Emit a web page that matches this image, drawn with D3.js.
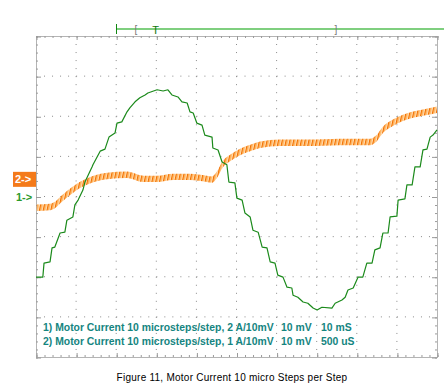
<!DOCTYPE html>
<html>
<head>
<meta charset="utf-8">
<script src="https://cdn.jsdelivr.net/npm/d3@7"></script>
<style>
    html, body { margin: 0; padding: 0; background: #fff; }
    svg { display: block; }
</style>
</head>
<body>
<div id="chart"></div>
<script>
// time in ms (10 ms/div), channel values in mV (10 mV/div)
const ch1Time = [0, 1.7, 2.0, 3.5, 4.0, 4.7, 6.0, 7.2, 7.7, 9.2, 9.7, 10.5, 11.7, 12.2, 14.0, 14.2, 16.0, 17.2, 18.2, 19.7,
    20.2, 21.4, 22.7, 23.4, 24.7, 25.9, 27.2, 27.9, 30.2, 31.7, 32.9, 33.9, 35.4, 36.4, 37.7, 38.4, 39.2, 40.1, 41.4, 42.1,
    43.9, 44.1, 45.4, 46.4, 47.6, 48.1, 49.6, 50.1, 51.4, 52.1, 53.4, 54.1, 55.4, 56.4, 57.6, 58.4, 59.6, 60.3, 61.6, 62.6,
    63.8, 64.1, 65.3, 66.6, 67.8, 69.1, 70.1, 71.3, 73.8, 74.6, 76.3, 77.1, 77.8, 79.1, 80.3, 81.5, 82.5, 83.8, 84.5, 85.8,
    86.5, 87.8, 88.3, 90.0, 90.3, 92.0, 92.5, 93.8, 94.5, 95.8, 96.5, 97.5, 98.3, 99.0, 100];
const ch1Values = [-20.1, -20.1, -16.6, -16.3, -12.8, -12.6, -9.1, -8.9, -5.9, -5.1, -2.1, -0.9, 1.6, 3.6, 7.4, 7.9, 11.3, 11.8, 14.8, 15.8,
    18.3, 18.6, 21.1, 22.1, 23.6, 24.6, 25.3, 25.8, 26.6, 26.3, 26.6, 25.3, 24.8, 23.6, 23.3, 21.1, 20.8, 18.3, 17.8, 15.3,
    14.8, 12.1, 11.6, 8.6, 7.9, 3.6, 3.4, -0.4, -0.9, -4.1, -5.1, -8.4, -8.9, -12.6, -12.8, -16.3, -16.6, -19.6, -20.1, -22.6,
    -22.8, -24.6, -25.1, -26.3, -26.6, -27.8, -28.3, -27.6, -27.8, -26.6, -25.8, -25.1, -23.3, -22.8, -20.1, -20.1, -16.6, -16.6, -13.3, -12.8,
    -9.1, -9.1, -5.1, -4.9, -0.9, -0.6, 2.9, 2.9, 7.4, 7.4, 11.6, 11.8, 14.8, 15.3, 16.6];

const ch2Time = [0.2, 3.5, 4.7, 6.7, 9.2, 11.0, 12.7, 15.2, 17.7, 22.7, 26.7, 30.2, 34.2, 38.4, 42.6, 43.9, 45.1, 46.6, 48.4, 50.9,
    53.4, 55.9, 60.8, 67.6, 75.8, 83.3, 85.0, 86.5, 89.0, 91.5, 94.0, 96.5, 100];
const ch2Values = [-7.2, -7.0, -6.5, -4.7, -2.7, -1.5, -0.7, 0.2, 0.7, 1.0, 0, 0, 0.5, 0.5, 0, -0.2, 1.0, 3.7, 5.2, 6.7,
    7.7, 8.5, 9.0, 9.0, 9.2, 9.2, 10.2, 12.2, 14.0, 15.2, 16.0, 16.5, 17.2];

const ch1Offset = 0;     // mV, ground marker 1->
const ch2Offset = 4.4;   // mV, ground marker 2->
const ripple = 0.8;      // mV, half height of ch2 ripple band

const legendLines = [
    ['1) Motor Current 10 microsteps/step, 2 A/10mV', '10 mV', '10 mS'],
    ['2) Motor Current 10 microsteps/step, 1 A/10mV', '10 mV', '500 uS']
];
const caption = 'Figure 11,  Motor Current 10 micro Steps per Step';

const W = 444, H = 386;
const box = { l: 36, r: 437, t: 36, b: 357 };

const svg = d3.select('#chart').append('svg')
    .attr('width', W)
    .attr('height', H)
    .style('font-family', 'Arial, "Liberation Sans", sans-serif');

const x = d3.scaleLinear().domain([0, 100]).range([box.l, box.r]);
const y = d3.scaleLinear().domain([-40, 40]).range([box.b, box.t]);

// ripple texture
const defs = svg.append('defs');
const pat = defs.append('pattern')
    .attr('id', 'ripple')
    .attr('patternUnits', 'userSpaceOnUse')
    .attr('width', 3.8).attr('height', 7)
    .attr('patternTransform', 'skewX(-12)');
pat.append('rect').attr('width', 3.8).attr('height', 7).attr('fill', '#ffdcb0');
pat.append('rect').attr('width', 1.3).attr('height', 7).attr('fill', '#f26f00');
pat.append('rect').attr('x', 1.3).attr('width', 1.1).attr('height', 7).attr('fill', '#ffa845');

// grid dots
const grid = svg.append('g').attr('class', 'grid');
const divX = d3.range(10, 100, 10);
const divY = d3.range(-30, 40, 10);
grid.selectAll('line.v').data(divX).join('line')
    .attr('class', 'v')
    .attr('x1', d => x(d)).attr('x2', d => x(d))
    .attr('y1', box.t).attr('y2', box.b)
    .attr('stroke', '#8a8a8a')
    .attr('stroke-dasharray', '1,7.025');
grid.selectAll('line.h').data(divY).join('line')
    .attr('class', 'h')
    .attr('y1', d => y(d)).attr('y2', d => y(d))
    .attr('x1', box.l).attr('x2', box.r)
    .attr('stroke', '#8a8a8a')
    .attr('stroke-dasharray', '1,7.02');

// frame
svg.append('rect')
    .attr('x', box.l + 0.5).attr('y', box.t + 0.5)
    .attr('width', box.r - box.l).attr('height', box.b - box.t)
    .attr('fill', 'none')
    .attr('stroke', '#b4b4b4');

// border ticks
function tickAxis(axis, tr, size) {
    const g = svg.append('g').attr('transform', tr)
        .call(axis.tickSizeInner(size).tickSizeOuter(0).tickFormat(''));
    g.select('.domain').remove();
    g.selectAll('.tick line').attr('stroke', '#9a9a9a');
}
const minorX = d3.range(0, 100.1, 2), majorX = d3.range(0, 100.1, 10);
const minorY = d3.range(-40, 40.1, 2), majorY = d3.range(-40, 40.1, 10);
tickAxis(d3.axisBottom(x).tickValues(minorX), `translate(0.5,${box.t})`, 2);
tickAxis(d3.axisBottom(x).tickValues(majorX), `translate(0.5,${box.t})`, 4);
tickAxis(d3.axisTop(x).tickValues(minorX), `translate(0.5,${box.b})`, 2);
tickAxis(d3.axisTop(x).tickValues(majorX), `translate(0.5,${box.b})`, 4);
tickAxis(d3.axisRight(y).tickValues(minorY), `translate(${box.l},0.5)`, 2);
tickAxis(d3.axisRight(y).tickValues(majorY), `translate(${box.l},0.5)`, 5);
tickAxis(d3.axisLeft(y).tickValues(minorY), `translate(${box.r},0.5)`, 2);
tickAxis(d3.axisLeft(y).tickValues(majorY), `translate(${box.r},0.5)`, 5);

// channel 2 (orange, rippled)
const ch2 = ch2Time.map((t, i) => ({ t, v: ch2Values[i] + ch2Offset }));
svg.append('path')
    .datum(ch2)
    .attr('fill', 'url(#ripple)')
    .attr('d', d3.area()
        .x(d => x(d.t))
        .y0(d => y(d.v - ripple))
        .y1(d => y(d.v + ripple))
        .curve(d3.curveMonotoneX));

// channel 1 (green, stepped sine)
const ch1 = ch1Time.map((t, i) => ({ t, v: ch1Values[i] + ch1Offset }));
svg.append('path')
    .datum(ch1)
    .attr('fill', 'none')
    .attr('stroke', '#1b8a1b')
    .attr('stroke-width', 1.2)
    .attr('stroke-linejoin', 'round')
    .attr('d', d3.line().x(d => x(d.t)).y(d => y(d.v)));

// trigger / timebase bar
const bar = svg.append('g');
bar.append('line')
    .attr('x1', 116).attr('x2', W).attr('y1', 29).attr('y2', 29)
    .attr('stroke', '#7fcf7f').attr('stroke-width', 2);
bar.append('line')
    .attr('x1', 116.5).attr('x2', 116.5).attr('y1', 24).attr('y2', 34)
    .attr('stroke', '#118811').attr('stroke-width', 1);
bar.append('text').attr('x', 136).attr('y', 33).text('[')
    .attr('font-size', 10).attr('fill', '#777').attr('text-anchor', 'middle');
bar.append('text').attr('x', 336).attr('y', 33).text(']')
    .attr('font-size', 10).attr('fill', '#777').attr('text-anchor', 'middle');
bar.append('text').attr('x', 155.5).attr('y', 34).text('T')
    .attr('font-size', 11).attr('fill', '#117711').attr('text-anchor', 'middle');

// ground markers
const m2y = y(ch2Offset), m1y = y(ch1Offset);
svg.append('rect')
    .attr('x', 13).attr('y', m2y - 7).attr('width', 23).attr('height', 15)
    .attr('fill', '#f47a1a');
svg.append('text').attr('x', 15).attr('y', m2y + 4.5).text('2->')
    .attr('font-size', 11).attr('font-weight', 'bold').attr('fill', '#fff');
svg.append('text').attr('x', 16).attr('y', m1y + 4).text('1->')
    .attr('font-size', 11).attr('font-weight', 'bold').attr('fill', '#2a9a2a');

// channel legend
const leg = svg.append('g')
    .attr('font-size', 10.4)
    .attr('font-weight', 'bold')
    .attr('fill', '#15857f');
legendLines.forEach((row, i) => {
    const yy = 331 + i * 14;
    leg.append('text').attr('x', 43).attr('y', yy).text(row[0]);
    leg.append('text').attr('x', 281).attr('y', yy).text(row[1]);
    leg.append('text').attr('x', 321).attr('y', yy).text(row[2]);
});

svg.append('text')
    .attr('x', 232).attr('y', 381)
    .attr('text-anchor', 'middle')
    .attr('font-size', 10)
    .attr('letter-spacing', 0.25)
    .attr('fill', '#000')
    .text(caption);
</script>
</body>
</html>
